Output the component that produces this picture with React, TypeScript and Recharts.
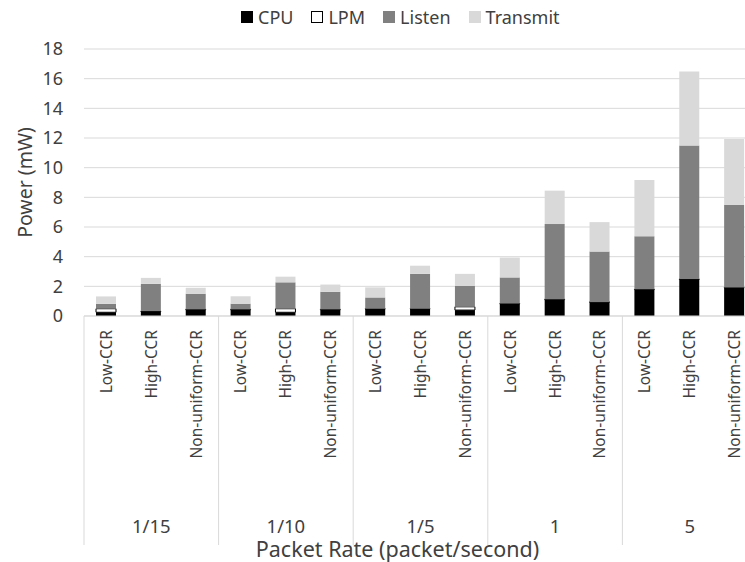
import { Bar, BarChart, CartesianGrid, Label, Legend, XAxis, YAxis } from 'recharts'

const groups = ['1/15', '1/10', '1/5', '1', '5']
const categories = ['Low-CCR', 'High-CCR', 'Non-uniform-CCR']

const cpu = [0.25, 0.3, 0.42, 0.42, 0.25, 0.42, 0.47, 0.47, 0.4, 0.82, 1.1, 0.93, 1.78, 2.47, 1.9]
const lpm = [0.24, 0.03, 0.03, 0.03, 0.24, 0.03, 0.02, 0.02, 0.22, 0.02, 0.03, 0.02, 0.02, 0.02, 0.02]
const listen = [0.33, 1.84, 1.05, 0.38, 1.78, 1.18, 0.76, 2.35, 1.42, 1.76, 5.07, 3.39, 3.57, 9.0, 5.58]
const transmit = [0.5, 0.4, 0.4, 0.5, 0.38, 0.49, 0.68, 0.55, 0.8, 1.34, 2.25, 1.99, 3.8, 5.0, 4.43]

const yTicks = [0, 2, 4, 6, 8, 10, 12, 14, 16, 18]

const data = groups.flatMap((group, gi) =>
  categories.map((name, ci) => {
    const i = gi * categories.length + ci
    return { group, name, cpu: cpu[i], lpm: lpm[i], listen: listen[i], transmit: transmit[i] }
  })
)

const FONT = '"Noto Sans", sans-serif'
const TEXT = '#404040'
const CHART_W = 757
const Y_W = 84
const CAT_H = 200
const GROUP_W = (CHART_W - Y_W) / groups.length

const legendStyle: Record<string, { fill: string; border?: string }> = {
  CPU: { fill: '#000000' },
  LPM: { fill: '#ffffff', border: '1px solid #000' },
  Listen: { fill: '#808080' },
  Transmit: { fill: '#d9d9d9' },
}

const LegendContent = (props: any) => {
  const items = props.payload || []
  return (
    <div style={{ display: 'flex', gap: 18, fontFamily: FONT, fontSize: 18, color: TEXT, lineHeight: '24px' }}>
      {items.map((item: any) => {
        const s = legendStyle[item.value] || { fill: item.color }
        return (
          <span key={item.value} style={{ display: 'flex', alignItems: 'center' }}>
            <span
              style={{
                width: 12,
                height: 12,
                boxSizing: 'border-box',
                background: s.fill,
                border: s.border,
                marginRight: 5,
              }}
            />
            {item.value}
          </span>
        )
      })}
    </div>
  )
}

const CategoryTick = ({ x, y, payload }: any) => (
  <text
    x={x}
    y={y + 14}
    transform={`rotate(-90 ${x} ${y + 14})`}
    textAnchor="end"
    dy="0.35em"
    fill={TEXT}
    fontSize={15.5}
    fontFamily={FONT}
  >
    {payload.value}
  </text>
)

const GroupTick = ({ x, y, payload, index }: any) => (
  <g>
    <line x1={x - GROUP_W / 2} x2={x - GROUP_W / 2} y1={y - CAT_H} y2={y + 29} stroke="#d9d9d9" />
    {index === groups.length - 1 && (
      <line x1={x + GROUP_W / 2} x2={x + GROUP_W / 2} y1={y - CAT_H} y2={y + 29} stroke="#d9d9d9" />
    )}
    <text x={x} y={y + 11} dy="0.35em" textAnchor="middle" fill={TEXT} fontSize={18.5} fontFamily={FONT}>
      {payload.value}
    </text>
  </g>
)

export default function App() {
  return (
    <div
      style={{
        position: 'fixed',
        left: 0,
        top: 0,
        width: 745,
        height: 562,
        overflow: 'hidden',
        background: '#fff',
      }}
    >
      <BarChart
        width={CHART_W}
        height={562}
        data={data}
        margin={{ top: 25, right: 0, bottom: 0, left: 0 }}
        barSize={20}
      >
        <Legend
          verticalAlign="top"
          align="left"
          content={LegendContent}
          wrapperStyle={{ top: 5, left: 241, width: 'auto' }}
        />
        <CartesianGrid vertical={false} stroke="#d9d9d9" xAxisId="cat" />
        <XAxis
          xAxisId="cat"
          dataKey="name"
          interval={0}
          height={CAT_H}
          tickSize={0}
          tickMargin={0}
          tickLine={false}
          axisLine={{ stroke: '#d9d9d9' }}
          tick={<CategoryTick />}
        />
        <XAxis
          xAxisId="grp"
          dataKey="group"
          allowDuplicatedCategory={false}
          interval={0}
          height={562 - 316 - CAT_H}
          tickSize={0}
          tickMargin={0}
          tickLine={false}
          axisLine={false}
          tick={<GroupTick />}
        >
          <Label
            content={({ viewBox }: any) => (
              <text
                x={viewBox.x + viewBox.width / 2 - 23}
                y={viewBox.y + 33}
                dy="0.35em"
                textAnchor="middle"
                fill={TEXT}
                fontSize={21.5}
                fontFamily={FONT}
              >
                Packet Rate (packet/second)
              </text>
            )}
          />
        </XAxis>
        <YAxis
          width={Y_W}
          domain={[0, 18]}
          ticks={yTicks}
          interval={0}
          tickSize={0}
          tickMargin={21}
          tickLine={false}
          axisLine={false}
          tick={{ fill: TEXT, fontSize: 18, fontFamily: FONT }}
        >
          <Label
            content={({ viewBox }: any) => {
              const cy = viewBox.y + viewBox.height / 2
              return (
                <text
                  x={25}
                  y={cy}
                  transform={`rotate(-90 25 ${cy})`}
                  dy="0.35em"
                  textAnchor="middle"
                  fill={TEXT}
                  fontSize={19.5}
                  fontFamily={FONT}
                >
                  Power (mW)
                </text>
              )
            }}
          />
        </YAxis>
        <Bar dataKey="cpu" name="CPU" stackId="p" xAxisId="cat" fill="#000000" isAnimationActive={false} />
        <Bar
          dataKey="lpm"
          name="LPM"
          stackId="p"
          xAxisId="cat"
          fill="#ffffff"
          stroke="#000000"
          strokeWidth={1}
          isAnimationActive={false}
        />
        <Bar dataKey="listen" name="Listen" stackId="p" xAxisId="cat" fill="#808080" isAnimationActive={false} />
        <Bar dataKey="transmit" name="Transmit" stackId="p" xAxisId="cat" fill="#d9d9d9" isAnimationActive={false} />
      </BarChart>
    </div>
  )
}
